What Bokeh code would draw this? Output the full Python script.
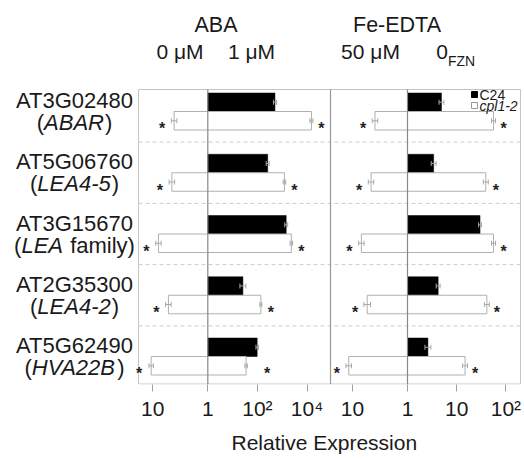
import numpy as np
from bokeh.plotting import figure
from bokeh.models import Range1d, FixedTicker, ColumnDataSource, Title
from bokeh.core.properties import value
from bokeh.embed import file_html
from bokeh.resources import INLINE

# ---------------- data ----------------
genes = ["AT3G02480", "AT5G06760", "AT3G15670", "AT2G35300", "AT5G62490"]
gene_names = [["(", "ABAR", ")"], ["(", "LEA4-5", ")"], ["(", "LEA", " family)"],
              ["(", "LEA4-2", ")"], ["(", "HVA22B", ")"]]

# relative expression (fold change vs C24 control)
aba_c24_1uM = [510, 260, 1450, 26, 98]
aba_cpl_0uM = [4.1, 4.5, 7.9, 5.2, 10.7]
aba_cpl_1uM = [15100, 1230, 2340, 138, 35]
fe_c24_0fzn = [4.9, 3.4, 29.8, 4.2, 2.6]
fe_cpl_50uM = [3.9, 4.6, 6.9, 5.4, 11.7]
fe_cpl_0fzn = [56, 39, 56, 41, 14.8]

# standard errors (log10 units)
aba_c24_err = [0.06, 0.06, 0.06, 0.12, 0.05]
aba_cpl0_err = [0.05, 0.05, 0.05, 0.05, 0.04]
aba_cpl1_err = [0.06, 0.05, 0.05, 0.04, 0.05]
fe_c24_err = [0.05, 0.05, 0.03, 0.04, 0.06]
fe_cpl50_err = [0.05, 0.05, 0.05, 0.06, 0.05]
fe_cpl0_err = [0.04, 0.05, 0.04, 0.05, 0.05]

panel_titles = ["ABA", "Fe-EDTA"]
condition_labels = ["0 μM", "1 μM", "50 μM"]
legend_labels = ["C24", "cpl1-2"]
x_title = "Relative Expression"
aba_ticks_left, aba_ticks_right = [10], [1, 100, 10000]
fe_ticks_left, fe_ticks_right = [10], [1, 10, 100]
aba_tick_labels_left, aba_tick_labels_right = ["10"], ["1", "10²", "10⁴"]
fe_tick_labels_left, fe_tick_labels_right = ["10"], ["1", "10", "10²"]

# ---------------- layout / scales ----------------
FONT = "Liberation Sans"
TXT = "#1a1a1a"
W, H = 524, 460
Y_BOT = 384

ABA = dict(zero=207.3, right=24.8, left=55.0)
FE = dict(zero=407.0, right=49.2, left=55.0)

def xr(pn, v):
    return pn["zero"] + pn["right"] * np.log10(np.asarray(v, dtype=float))

def xl(pn, v):
    return pn["zero"] - pn["left"] * np.log10(np.asarray(v, dtype=float))

n = len(genes)
row_h = 61.25
row_c = 111 + row_h * np.arange(n)
bar_h = 18.5
BOX_L, BOX_R, BOX_T, BOX_B = 138, 520, 89, 383.5
DIV = 330

p = figure(width=W, height=H, output_backend="svg", toolbar_location=None,
           x_range=Range1d(0, W), y_range=Range1d(Y_BOT, 0),
           y_axis_location=None, min_border_left=0, min_border_right=0,
           min_border_top=0, min_border_bottom=H - Y_BOT,
           outline_line_color=None, background_fill_color="white",
           border_fill_color="white")
p.xgrid.visible = False
p.ygrid.visible = False

# box
p.quad(left=[BOX_L], right=[BOX_R], top=[BOX_T], bottom=[BOX_B],
       fill_color=None, line_color="#c4c4c4", line_width=1)
# dashed separators
sep_y = row_c[:-1] + row_h / 2
p.segment(x0=[BOX_L] * (n - 1), x1=[BOX_R] * (n - 1), y0=sep_y, y1=sep_y,
          line_color="#cccccc", line_dash="4 3", line_width=1)
# divider
p.segment(x0=[DIV], x1=[DIV], y0=[BOX_T], y1=[BOX_B + 0.5], line_color="#999999", line_width=1.2)

def draw_panel(pn, c24, cpl_l, cpl_r, e_c24, e_l, e_r):
    c24_end = xr(pn, c24)
    l_end = xl(pn, cpl_l)
    r_end = xr(pn, cpl_r)
    # black bars (C24)
    p.quad(left=np.full(n, pn["zero"]), right=c24_end, top=row_c - bar_h, bottom=row_c,
           fill_color="black", line_color="black", line_width=0.5)
    # white bars (cpl1-2)
    p.quad(left=l_end, right=r_end, top=row_c, bottom=row_c + bar_h,
           fill_color="white", line_color="#b0b0b0", line_width=1)
    # zero line
    p.segment(x0=[pn["zero"]], x1=[pn["zero"]], y0=[BOX_T], y1=[BOX_B + 0.5],
              line_color="#888888", line_width=1.2)
    # error bars
    lc24 = np.log10(c24); ll = np.log10(cpl_l); lr = np.log10(cpl_r)
    groups = [
        (xr(pn, 10 ** (lc24 - np.array(e_c24))), xr(pn, 10 ** (lc24 + np.array(e_c24))), row_c - bar_h / 2),
        (xl(pn, 10 ** (ll - np.array(e_l))), xl(pn, 10 ** (ll + np.array(e_l))), row_c + bar_h / 2),
        (xr(pn, 10 ** (lr - np.array(e_r))), xr(pn, 10 ** (lr + np.array(e_r))), row_c + bar_h / 2),
    ]
    for a, b, y in groups:
        p.segment(x0=a, x1=b, y0=y, y1=y, line_color="#a8a8a8", line_width=1)
        for xx in (a, b):
            p.segment(x0=xx, x1=xx, y0=y - 2.5, y1=y + 2.5, line_color="#a8a8a8", line_width=1)
    # significance asterisks
    ax = np.concatenate([l_end - 12, np.maximum(c24_end, r_end) + 10])
    ay = np.concatenate([row_c + bar_h / 2, row_c + bar_h / 2])
    p.text(x=ax, y=ay, text=["*"] * len(ax), text_font=value(FONT), text_font_size="16px",
           text_font_style="bold", text_color="#222222", text_align="center",
           text_baseline="alphabetic", y_offset=8)

draw_panel(ABA, aba_c24_1uM, aba_cpl_0uM, aba_cpl_1uM, aba_c24_err, aba_cpl0_err, aba_cpl1_err)
draw_panel(FE, fe_c24_0fzn, fe_cpl_50uM, fe_cpl_0fzn, fe_c24_err, fe_cpl50_err, fe_cpl0_err)

# panel titles
p.text(x=[215.5, 396.5], y=[24, 24], text=panel_titles,
       text_font=value(FONT), text_font_size="21.5px", text_color=TXT,
       text_align="center", text_baseline="middle")
# conditions
p.text(x=[179.5, 251, 370], y=[51] * 3, text=condition_labels,
       text_font=value(FONT), text_font_size="21px", text_color=TXT,
       text_align="center", text_baseline="middle")
p.text(x=[441.5], y=[51], text=["0"], text_font=value(FONT), text_font_size="21px",
       text_color=TXT, text_align="center", text_baseline="middle")
p.text(x=[447.5], y=[60], text=["FZN"], text_font=value(FONT), text_font_size="14px",
       text_color=TXT, text_align="left", text_baseline="middle")

# legend
p.scatter(x=[474, 474], y=[94, 105], marker="square", size=6,
          fill_color=["black", "white"], line_color=["black", "#999999"], line_width=1)
p.text(x=[479], y=[94], text=[legend_labels[0]], text_font=value(FONT), text_font_size="14px",
       text_color=TXT, text_align="left", text_baseline="middle")
p.text(x=[479], y=[105], text=[legend_labels[1]], text_font=value(FONT), text_font_size="14px",
       text_font_style="italic", text_color=TXT, text_align="left", text_baseline="middle")

# gene labels
LAB_X = 74
GFS = 22
p.text(x=[LAB_X] * n, y=row_c - 11, text=genes, text_font=value(FONT),
       text_font_size=f"{GFS}px", text_color=TXT, text_align="center", text_baseline="middle")

WID = {'(': .333, ')': .333, 'A': .667, 'B': .667, 'R': .722, 'L': .556, 'E': .667,
       '-': .333, 'H': .722, 'V': .667, ' ': .278, 'f': .278, 'a': .556, 'm': .833,
       'i': .222, 'l': .222, 'y': .5}
def tw(s):
    return sum(WID.get(c, .556) for c in s) * GFS

xs, ys, ts, st = [], [], [], []
for i, parts in enumerate(gene_names):
    total = sum(tw(s) for s in parts) + 1
    x = LAB_X - total / 2
    for k, s in enumerate(parts):
        lead = len(s) - len(s.lstrip(" "))
        xs.append(x + tw(" " * lead)); ys.append(row_c[i] + 11); ts.append(s.lstrip(" "))
        st.append("italic" if k == 1 else "normal")
        x += tw(s) + (1 if k == 1 else 0)
src = ColumnDataSource(dict(x=xs, y=ys, text=ts, style=st))
p.text(x="x", y="y", text="text", text_font_style="style", source=src,
       text_font=value(FONT), text_font_size=f"{GFS}px", text_color=TXT,
       text_align="left", text_baseline="middle")

# x axis with tick positions from the panel scales
tick_pos, tick_lab = [], []
for pn, tl, tr, ll, lr in [(ABA, aba_ticks_left, aba_ticks_right, aba_tick_labels_left, aba_tick_labels_right),
                           (FE, fe_ticks_left, fe_ticks_right, fe_tick_labels_left, fe_tick_labels_right)]:
    for v, lab in zip(tl, ll):
        tick_pos.append(round(float(xl(pn, v)), 2)); tick_lab.append(lab)
    for v, lab in zip(tr, lr):
        tick_pos.append(round(float(xr(pn, v)), 2)); tick_lab.append(lab)

axis = p.xaxis[0]
axis.ticker = FixedTicker(ticks=tick_pos)
axis.major_label_overrides = {tp: lab for tp, lab in zip(tick_pos, tick_lab)}
axis.axis_line_color = None
axis.major_tick_line_color = "#a0a0a0"
axis.major_tick_out = 7
axis.major_tick_in = 0
axis.minor_tick_line_color = None
axis.major_label_text_font = FONT
axis.major_label_text_font_size = "21px"
axis.major_label_text_color = TXT
axis.major_label_standoff = 5

p.add_layout(Title(text=x_title, align="left", offset=231, standoff=12,
                   text_font=FONT, text_font_size="21px", text_font_style="normal",
                   text_color=TXT), "below")

open("out.html", "w").write(file_html(p, INLINE))
